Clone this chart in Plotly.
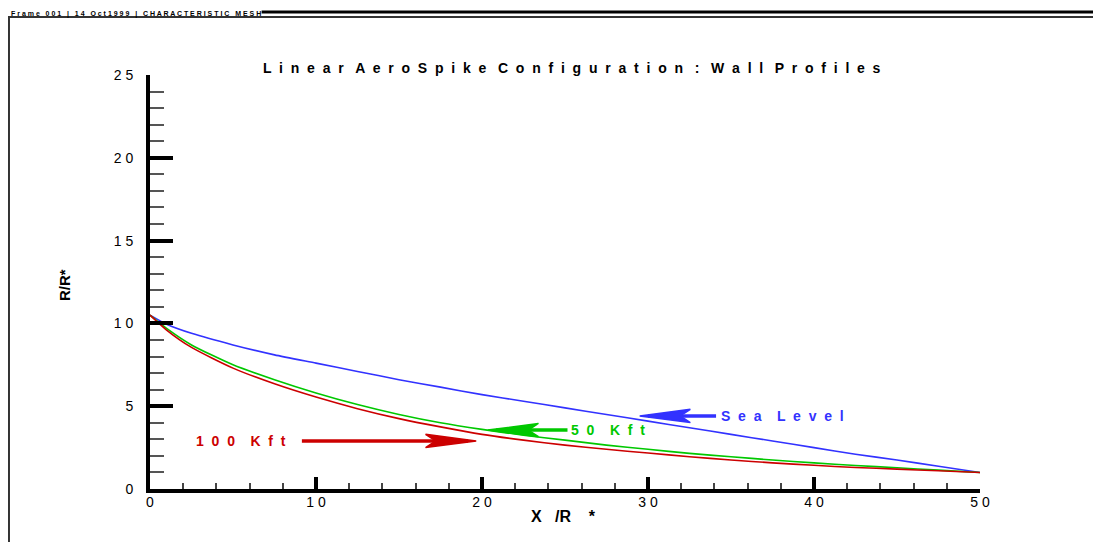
import plotly.graph_objects as go

# ---- data ----
x_vals = [0, 1, 2.5, 5, 7.5, 10, 12.5, 15, 17.5, 20, 22.5, 25, 27.5, 30, 32.5, 35, 37.5, 40, 42.5, 45, 47.5, 50]
sea_level = [10.5, 9.95, 9.4, 8.7, 8.1, 7.6, 7.1, 6.6, 6.15, 5.7, 5.3, 4.9, 4.5, 4.1, 3.7, 3.3, 2.9, 2.5, 2.1, 1.75, 1.37, 1.0]
kft_50 = [10.5, 9.7, 8.7, 7.5, 6.6, 5.8, 5.1, 4.5, 4.0, 3.6, 3.25, 2.95, 2.65, 2.4, 2.15, 1.95, 1.75, 1.58, 1.42, 1.28, 1.14, 1.0]
kft_100 = [10.5, 9.6, 8.55, 7.3, 6.35, 5.55, 4.85, 4.25, 3.75, 3.3, 2.95, 2.65, 2.4, 2.17, 1.95, 1.75, 1.58, 1.43, 1.3, 1.2, 1.1, 1.0]

x_ticks = [0, 10, 20, 30, 40, 50]
x_tick_text = ["0", "1 0", "2 0", "3 0", "4 0", "5 0"]
y_ticks = [0, 5, 10, 15, 20, 25]
y_tick_text = ["0", "5", "1 0", "1 5", "2 0", "2 5"]

BLUE = "#3232ff"
GREEN = "#00c800"
RED = "#cc0000"
FONT = "Liberation Sans, Arial, sans-serif"
NB = "\u00a0"


def spaced(s, gap=1, word_gap=3):
    """Spread letters apart like the original Tecplot-style lettering."""
    words = s.split(" ")
    g = " " + NB * (gap - 1) if gap > 0 else ""
    wg = " " + NB * (word_gap - 1)
    return wg.join(g.join(list(w)) for w in words)


series = [("Sea Level", sea_level, BLUE), ("50 Kft", kft_50, GREEN), ("100 Kft", kft_100, RED)]

fig = go.Figure()
for name, ys, col in series:
    fig.add_trace(go.Scatter(x=x_vals, y=ys, mode="lines", name=name,
                             line=dict(color=col, width=1.6, shape="spline", smoothing=0.6),
                             showlegend=False, hoverinfo="skip"))

# arrow callouts: (label, colour, tip_x, tip_y, tail_x, text_x)
callouts = [
    ("Sea Level", BLUE, 29.5, 4.41, 34.1, 34.3),
    ("50 Kft", GREEN, 20.35, 3.56, 25.15, 25.25),
    ("100 Kft", RED, 19.65, 2.90, 9.15, 2.65),
]

shapes = []
annotations = []
head_len = 3.05
head_hw = 0.40
for label, col, tx, ty, tail, txt_x in callouts:
    d = 1 if tail > tx else -1
    back = tx + d * head_len
    notch = tx + d * head_len * 0.8
    shapes.append(dict(type="line", xref="x", yref="y", x0=tail, y0=ty, x1=tx + d * 0.5, y1=ty,
                       line=dict(color=col, width=3.5)))
    shapes.append(dict(type="path", xref="x", yref="y",
                       path=f"M {tx} {ty} L {back} {ty + head_hw} L {notch} {ty} L {back} {ty - head_hw} Z",
                       fillcolor=col, line=dict(color=col, width=1.5)))
    annotations.append(dict(x=txt_x, y=ty, xref="x", yref="y", text=spaced(label, 2, 4), showarrow=False,
                            xanchor="left", yanchor="middle",
                            font=dict(family=FONT, size=14, color=col, weight="bold")))

# frame decorations (paper coords relative to plot area)
shapes += [
    dict(type="line", xref="paper", yref="paper", x0=-0.1711, x1=1.1458, y0=1.1401, y1=1.1401,
         line=dict(color="#333333", width=2)),
    dict(type="line", xref="paper", yref="paper", x0=0.1345, x1=1.1458, y0=1.1522, y1=1.1522,
         line=dict(color="black", width=3)),
    dict(type="line", xref="paper", yref="paper", x0=-0.1699, x1=-0.1699, y0=1.1401, y1=-0.14,
         line=dict(color="#333333", width=2)),
]

annotations += [
    dict(x=-0.1695, y=1.1475, xref="paper", yref="paper", showarrow=False, xanchor="left", yanchor="middle",
         text=spaced("Frame 001 | 14 Oct1999 | CHARACTERISTIC MESH", 1, 3),
         font=dict(family=FONT, size=7, color="black", weight="bold")),
    dict(x=0.5084, y=1.0169, xref="paper", yref="paper", showarrow=False, xanchor="center", yanchor="middle",
         text=spaced("Linear AeroSpike Configuration : Wall Profiles", 2, 3),
         font=dict(family=FONT, size=14, color="black", weight="bold")),
    dict(x=-0.1024, y=0.4928, xref="paper", yref="paper", showarrow=False, textangle=-90,
         xanchor="center", yanchor="middle", text="R/R*",
         font=dict(family=FONT, size=15, color="black", weight="bold")),
    dict(x=0.4985, y=-0.0676, xref="paper", yref="paper", showarrow=False,
         xanchor="center", yanchor="middle", text="X" + NB * 3 + "/R" + NB * 4 + "*",
         font=dict(family=FONT, size=16, color="black", weight="bold")),
]

# the page body adds an 8px offset, so the figure is 8px smaller and margins shifted
fig.update_layout(
    width=1093, height=534,
    margin=dict(l=142, r=121, t=67, b=53),
    paper_bgcolor="white", plot_bgcolor="white",
    font=dict(family=FONT, size=14, color="black"),
    shapes=shapes, annotations=annotations,
    xaxis=dict(range=[0, 50], tickmode="array", tickvals=x_ticks, ticktext=x_tick_text,
               showgrid=False, zeroline=False, showline=True, linecolor="black", linewidth=4,
               ticks="inside", ticklen=12, tickwidth=4, tickcolor="black",
               minor=dict(tickmode="array", tickvals=[v for v in range(0, 51, 2) if v % 10],
                          ticks="inside", ticklen=6, tickwidth=1.5, tickcolor="#444444", showgrid=False),
               tickfont=dict(family=FONT, size=14, color="black"), ticklabelstandoff=-3),
    yaxis=dict(range=[0, 25], tickmode="array", tickvals=y_ticks, ticktext=y_tick_text,
               showgrid=False, zeroline=False, showline=True, linecolor="black", linewidth=4,
               ticks="inside", ticklen=23, tickwidth=4, tickcolor="black",
               minor=dict(tickmode="array", tickvals=[v for v in range(0, 26) if v % 5],
                          ticks="inside", ticklen=14, tickwidth=1.5, tickcolor="#555555", showgrid=False),
               tickfont=dict(family=FONT, size=14, color="black"), ticklabelstandoff=10),
)

fig.write_html("out.html")
